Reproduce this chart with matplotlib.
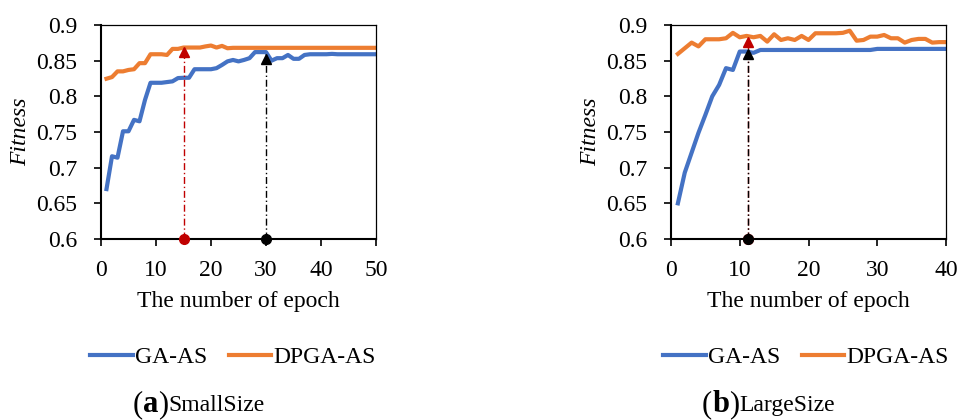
import matplotlib
matplotlib.use("Agg")
import matplotlib.pyplot as plt

plt.rcParams['font.family'] = ['Liberation Serif', 'DejaVu Serif']

# (a) SmallSize, epochs 1..50
small_epochs = list(range(1, 51))
small_ga = [0.670, 0.716, 0.714, 0.751, 0.751, 0.767, 0.765, 0.795, 0.819, 0.819,
            0.819, 0.820, 0.821, 0.8256, 0.826, 0.826, 0.838, 0.838, 0.838, 0.838,
            0.8395, 0.844, 0.849, 0.851, 0.849, 0.851, 0.8535, 0.862, 0.862, 0.862,
            0.850, 0.8535, 0.8535, 0.858, 0.8526, 0.8526, 0.858, 0.859, 0.859, 0.859,
            0.859, 0.8595, 0.859, 0.859, 0.859, 0.859, 0.859, 0.859, 0.859, 0.859]
small_dpga = [0.8247, 0.827, 0.835, 0.835, 0.837, 0.838, 0.8465, 0.8465, 0.859, 0.859,
              0.859, 0.858, 0.8665, 0.8665, 0.8684, 0.8684, 0.8684, 0.8684, 0.870, 0.8712,
              0.8684, 0.8707, 0.8674, 0.868, 0.868, 0.868, 0.868, 0.868, 0.868, 0.868,
              0.868, 0.868, 0.868, 0.868, 0.868, 0.868, 0.868, 0.868, 0.868, 0.868,
              0.868, 0.868, 0.868, 0.868, 0.868, 0.868, 0.868, 0.868, 0.868, 0.868]

# (b) LargeSize, epochs 1..40
large_epochs = list(range(1, 41))
large_ga = [0.650, 0.693, 0.721, 0.749, 0.774, 0.800, 0.816, 0.8395, 0.837, 0.8628,
            0.8628, 0.861, 0.865, 0.865, 0.865, 0.865, 0.865, 0.865, 0.865, 0.865,
            0.865, 0.865, 0.865, 0.865, 0.865, 0.865, 0.865, 0.865, 0.865, 0.8665,
            0.8665, 0.8665, 0.8665, 0.8665, 0.8665, 0.8665, 0.8665, 0.8665, 0.8665, 0.8665]
large_dpga = [0.8595, 0.8674, 0.8753, 0.870, 0.880, 0.880, 0.880, 0.8814, 0.889, 0.8828,
              0.8847, 0.8828, 0.8847, 0.8767, 0.887, 0.879, 0.8814, 0.879, 0.8847, 0.879,
              0.8884, 0.8884, 0.8884, 0.8884, 0.889, 0.892, 0.878, 0.879, 0.8837, 0.8837,
              0.886, 0.8814, 0.8814, 0.8753, 0.879, 0.8805, 0.8805, 0.8753, 0.876, 0.876]

# convergence markers: (epoch, fitness at arrow head)
small_marks = [(15, 0.862, '#C00000'), (30, 0.853, 'black')]
large_marks = [(11.2, 0.876, '#C00000'), (11.2, 0.859, 'black')]

BLUE = '#4472C4'
ORANGE = '#ED7D31'
FS = 17

fig = plt.figure(figsize=(9.57, 4.2), dpi=100)


def draw_panel(left, epochs, ga, dpga, xmax, marks, legend_x, cap_x, letter, name):
    ax = fig.add_axes([left / 957, 1 - 239 / 420, 275 / 957, 214 / 420])
    ax.plot(epochs, ga, color=BLUE, lw=3.0, label='GA-AS', solid_joinstyle='round')
    ax.plot(epochs, dpga, color=ORANGE, lw=3.0, label='DPGA-AS', solid_joinstyle='round')
    for x, top, c in marks:
        ax.plot([x, x], [0.6, top], color=c, lw=1.0, linestyle=(0, (5, 2, 1, 2)), zorder=3)
        ax.plot([x], [top], marker='^', color=c, markersize=7, zorder=4, clip_on=False)
        ax.plot([x], [0.6], marker='o', color=c, markersize=7, zorder=4, clip_on=False)
    ax.set_xlim(0, xmax)
    ax.set_ylim(0.6, 0.9)
    ax.set_xticks(range(0, xmax + 1, 10))
    ax.set_yticks([0.6, 0.65, 0.7, 0.75, 0.8, 0.85, 0.9])
    ax.set_yticklabels(['0.6', '0.65', '0.7', '0.75', '0.8', '0.85', '0.9'])
    ax.tick_params(axis='both', direction='out', length=5, width=1.2, labelsize=FS, pad=10)
    ax.tick_params(axis='y', pad=12)
    for s in ['left', 'bottom']:
        ax.spines[s].set_linewidth(1.5)
    for s in ['top', 'right']:
        ax.spines[s].set_linewidth(0.9)
    ax.set_xlabel('The number of epoch', fontsize=FS, labelpad=7)
    ax.set_ylabel('Fitness', fontsize=FS, style='italic', labelpad=4)
    ax.legend(loc='center', bbox_to_anchor=(legend_x / 957, 1 - 357 / 420),
              bbox_transform=fig.transFigure, ncol=2, frameon=False, fontsize=FS,
              handlelength=1.8, handletextpad=0.1, columnspacing=0.9)
    t1 = fig.text(cap_x / 957, 1 - 419 / 420, '(', fontsize=22, va='bottom', ha='left')
    t2 = ax.annotate(letter, xy=(1, 0), xycoords=t1, fontsize=22, fontweight='bold',
                     va='bottom', ha='left')
    t3 = ax.annotate(')', xy=(1, 0), xycoords=t2, fontsize=22, va='bottom', ha='left')
    ax.annotate(name, xy=(1, 0), xycoords=t3, xytext=(0, 2), textcoords='offset points',
                fontsize=FS, va='bottom', ha='left')
    return ax


draw_panel(101, small_epochs, small_ga, small_dpga, 50, small_marks, 233, 133, 'a', 'SmallSize')
draw_panel(671, large_epochs, large_ga, large_dpga, 40, large_marks, 806, 702, 'b', 'LargeSize')

fig.savefig('out.png', dpi=100)
